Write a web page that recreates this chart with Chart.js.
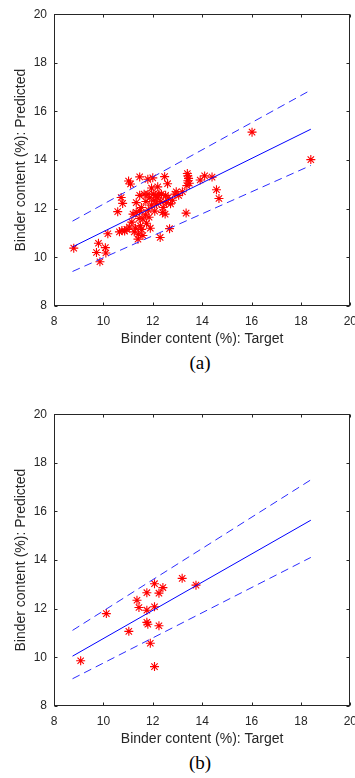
<!DOCTYPE html>
<html>
<head>
<meta charset="utf-8">
<script src="https://cdn.jsdelivr.net/npm/chart.js@4"></script>
<style>
html, body { margin: 0; padding: 0; width: 355px; height: 778px; overflow: hidden; background: #fff; }
.plot { position: absolute; left: 0; }
.cap { position: absolute; left: 150px; width: 100px; text-align: center; font-family: "Liberation Serif", "Times New Roman", serif; font-size: 19px; color: #000; }
</style>
</head>
<body>
<canvas id="chartA" class="plot" style="top:0" width="365" height="348"></canvas>
<div class="cap" style="top:352px">(a)</div>
<canvas id="chartB" class="plot" style="top:400px" width="365" height="348"></canvas>
<div class="cap" style="top:752px">(b)</div>
<script>
// (a) target vs predicted binder content
const targetA = [8.8, 9.8, 9.72, 10.08, 10.1, 9.86, 10.18, 10.58, 10.72, 10.78, 10.65, 10.75, 10.86, 10.95,
  11.02, 11.1, 11.05, 11.15, 11.2, 11.25, 11.3, 11.33, 11.33, 11.4, 11.42, 11.45, 11.47, 11.47, 11.47, 11.5,
  11.54, 11.55, 11.6, 11.6, 11.65, 11.7, 11.72, 11.75, 11.8, 11.8, 11.82, 11.85, 11.88, 11.9, 11.95, 12.0,
  12.02, 12.05, 12.08, 12.12, 12.15, 12.2, 12.25, 12.3, 12.32, 12.35, 12.4, 12.42, 12.48, 12.5, 12.52, 12.55,
  12.6, 12.62, 12.68, 12.72, 12.8, 12.9, 12.95, 13.05, 13.35, 13.4, 13.42, 13.45, 13.42, 13.48, 13.38, 13.92,
  14.1, 14.4, 14.58, 14.68, 16.02, 18.4, 12.2, 11.95, 13.2];
const predictedA = [10.38, 10.58, 10.2, 10.4, 10.18, 9.82, 10.97, 11.88, 12.46, 12.22, 11.05, 11.1, 11.08, 11.15,
  13.14, 13.02, 11.25, 11.45, 11.78, 11.05, 11.2, 11.85, 12.25, 10.75, 10.95, 11.6, 11.92, 12.55, 13.31, 11.3,
  12.05, 11.15, 11.58, 10.9, 12.6, 11.75, 12.3, 11.4, 13.21, 12.6, 11.95, 11.65, 12.45, 11.2, 12.15, 13.27,
  12.6, 12.35, 11.9, 12.55, 12.2, 12.45, 12.6, 10.82, 12.3, 12.6, 11.85, 12.05, 13.32, 11.78, 12.55, 12.25,
  13.03, 12.45, 11.18, 12.2, 12.35, 12.6, 12.7, 12.55, 11.82, 13.45, 13.35, 13.25, 13.15, 13.05, 12.95, 13.18,
  13.35, 13.3, 12.78, 12.42, 15.15, 14.02, 12.9, 12.85, 12.7];

// (b)
const targetB = [9.08, 10.12, 11.03, 11.36, 11.44, 11.76, 11.76, 12.07, 12.41, 12.25, 12.07, 11.76, 11.8,
  12.25, 11.9, 12.07, 13.19, 13.75];
const predictedB = [9.86, 11.8, 11.07, 12.35, 12.05, 11.94, 12.66, 13.03, 12.87, 12.64, 12.08, 11.44, 11.36,
  11.3, 10.58, 9.62, 13.25, 12.97];

// fitted line and bounds, at the two ends
const lineX = [8.75, 18.4];
const fitA = [10.43, 15.27];
const upperA = [11.49, 16.88];
const lowerA = [9.42, 13.78];
const fitB = [10.05, 15.64];
const upperB = [11.11, 17.3];
const lowerB = [9.12, 14.11];

const axisTicks = [8, 10, 12, 14, 16, 18, 20];

const ink = '#262626';
Chart.defaults.font.family = "'Liberation Sans', Arial, sans-serif";

const boxTicks = {
  id: 'boxTicks',
  afterDatasetsDraw(chart) {
    const { ctx, chartArea: a, scales: { x, y } } = chart;
    ctx.save();
    ctx.strokeStyle = ink;
    ctx.lineWidth = 1;
    const l = Math.round(a.left) + 0.5, r = Math.round(a.right) - 0.5;
    const t = Math.round(a.top) + 0.5, b = Math.round(a.bottom) - 0.5;
    ctx.strokeRect(l, t, r - l, b - t);
    ctx.beginPath();
    axisTicks.forEach(v => {
      const px = Math.round(x.getPixelForValue(v)) + 0.5;
      ctx.moveTo(px, b); ctx.lineTo(px, b - 3);
      ctx.moveTo(px, t); ctx.lineTo(px, t + 3);
      const py = Math.round(y.getPixelForValue(v)) + 0.5;
      ctx.moveTo(l, py); ctx.lineTo(l + 3, py);
      ctx.moveTo(r, py); ctx.lineTo(r - 3, py);
    });
    ctx.stroke();
    ctx.restore();
  }
};

function pairs(xs, ys) {
  return xs.map((x, i) => ({ x: x, y: ys[i] }));
}

function lineSet(ys, dashed) {
  return {
    data: pairs(lineX, ys),
    showLine: true,
    borderColor: dashed ? '#2a2aff' : '#0000ff',
    borderWidth: 1,
    borderDash: dashed ? [8, 5] : [],
    pointRadius: 0
  };
}

function makeChart(id, tx, py, fit, upper, lower) {
  return new Chart(document.getElementById(id), {
    type: 'scatter',
    data: {
      datasets: [
        lineSet(fit, false),
        lineSet(upper, true),
        lineSet(lower, true),
        {
          data: pairs(tx, py),
          pointStyle: 'star',
          pointRadius: 4.5,
          borderColor: '#ff0000',
          backgroundColor: '#ff0000',
          borderWidth: 1.1
        }
      ]
    },
    options: {
      responsive: false,
      animation: false,
      layout: { padding: { top: 12, right: 0, bottom: 0, left: 0 } },
      plugins: { legend: { display: false }, tooltip: { enabled: false } },
      scales: {
        x: {
          type: 'linear', min: 8, max: 20,
          ticks: { stepSize: 2, padding: 8, color: ink, font: { size: 12 } },
          grid: { display: false, drawTicks: false },
          border: { display: false },
          title: { display: true, text: 'Binder content (%): Target', color: ink,
            font: { size: 14 }, padding: { top: 0, bottom: 0 } },
          afterFit(scale) { scale.height = 42; }
        },
        y: {
          type: 'linear', min: 8, max: 20,
          ticks: { stepSize: 2, padding: 7, color: ink, font: { size: 12 } },
          grid: { display: false, drawTicks: false },
          border: { display: false },
          title: { display: true, text: 'Binder content (%): Predicted', color: ink,
            font: { size: 14 }, padding: { top: 13, bottom: 0 } },
          afterFit(scale) { scale.width = 54; }
        }
      }
    },
    plugins: [boxTicks]
  });
}

makeChart('chartA', targetA, predictedA, fitA, upperA, lowerA);
makeChart('chartB', targetB, predictedB, fitB, upperB, lowerB);
</script>
</body>
</html>
